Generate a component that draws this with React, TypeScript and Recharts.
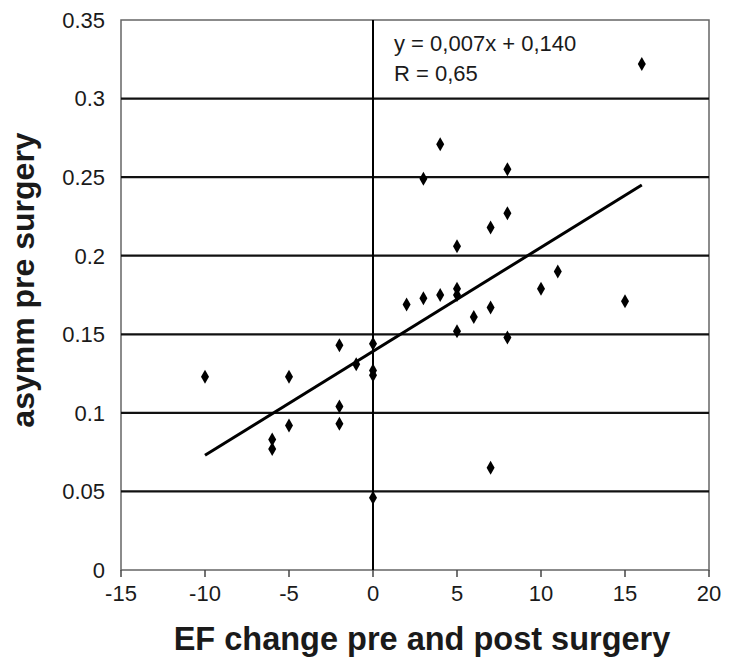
import React from "react";
import {
  ComposedChart,
  Scatter,
  Line,
  XAxis,
  YAxis,
  ReferenceLine,
  ReferenceArea,
} from "recharts";

// EF change (x) vs asymm pre surgery (y)
const efChange = [
  -10, -6, -6, -5, -5, -2, -2, -2, -1, 0, 0, 0, 0, 2, 3, 3, 4, 4, 5, 5, 5, 5, 6, 7, 7, 7, 8, 8, 8, 10, 11, 15, 16,
];
const asymm = [
  0.123, 0.083, 0.077, 0.123, 0.092, 0.143, 0.104, 0.093, 0.131, 0.144, 0.127, 0.124, 0.046, 0.169, 0.249, 0.173,
  0.271, 0.175, 0.206, 0.179, 0.175, 0.152, 0.161, 0.218, 0.167, 0.065, 0.255, 0.227, 0.148, 0.179, 0.19, 0.171,
  0.322,
];

// regression line endpoints (y = 0,007x + 0,140)
const trendX = [-10, 16];
const trendY = [0.073, 0.245];

const xTicks = [-15, -10, -5, 0, 5, 10, 15, 20];
const yTicks = [0, 0.05, 0.1, 0.15, 0.2, 0.25, 0.3, 0.35];
const gridLines = [0.05, 0.1, 0.15, 0.2, 0.25, 0.3];

const points = efChange.map((x, i) => ({ x, y: asymm[i] }));
const trend = trendX.map((x, i) => ({ x, y: trendY[i] }));

const FONT = "'Liberation Sans', Arial, sans-serif";

const Diamond = (props: any) => {
  const { cx, cy } = props;
  if (cx == null || cy == null) return null;
  return <polygon points={`${cx},${cy - 7} ${cx + 4},${cy} ${cx},${cy + 7} ${cx - 4},${cy}`} fill="#000" />;
};

const YTitle = () => (
  <text
    x={34}
    y={280}
    transform="rotate(-90, 34, 280)"
    textAnchor="middle"
    fontFamily={FONT}
    fontWeight="bold"
    fontSize={32}
    fill="#1a1a1a"
  >
    asymm pre surgery
  </text>
);

const XTitle = () => (
  <text x={422} y={650} textAnchor="middle" fontFamily={FONT} fontWeight="bold" fontSize={32.5} fill="#1a1a1a">
    EF change pre and post surgery
  </text>
);

const Equation = (props: any) => {
  const vb = props.viewBox || {};
  return (
    <g fontFamily={FONT} fontSize={22} fill="#1a1a1a">
      <text x={vb.x + 21} y={51}>
        y = 0,007x  + 0,140
      </text>
      <text x={vb.x + 21} y={81}>
        R = 0,65
      </text>
    </g>
  );
};

export default function App() {
  return (
    <div style={{ position: "absolute", left: 0, top: 0, background: "#fff" }}>
      <ComposedChart width={732} height={662} margin={{ top: 20, right: 23, bottom: 0, left: 0 }}>
        <XAxis
          dataKey="x"
          type="number"
          domain={[-15, 20]}
          ticks={xTicks}
          allowDataOverflow
          height={92}
          axisLine={false}
          tickLine={{ stroke: "#444", strokeWidth: 1.5 }}
          tickSize={7}
          tickMargin={8}
          tick={{ fontFamily: FONT, fontSize: 22, fill: "#1a1a1a" }}
          label={<XTitle />}
        />
        <YAxis
          dataKey="y"
          type="number"
          domain={[0, 0.35]}
          ticks={yTicks}
          allowDataOverflow
          width={121}
          axisLine={false}
          tickLine={false}
          tickSize={0}
          tickMargin={16}
          tickFormatter={(v: number) => String(v)}
          tick={{ fontFamily: FONT, fontSize: 22, fill: "#1a1a1a" }}
          label={<YTitle />}
        />
        {gridLines.map((g) => (
          <ReferenceLine key={g} y={g} stroke="#111" strokeWidth={2.2} />
        ))}
        <ReferenceArea x1={-15} x2={20} y1={0} y2={0.35} fill="none" stroke="#666" strokeWidth={1.5} />
        <ReferenceLine x={0} stroke="#000" strokeWidth={2} label={<Equation />} />
        <Line
          data={trend}
          dataKey="y"
          stroke="#000"
          strokeWidth={3}
          dot={false}
          activeDot={false}
          isAnimationActive={false}
        />
        <Scatter data={points} dataKey="y" shape={<Diamond />} isAnimationActive={false} />
      </ComposedChart>
    </div>
  );
}
